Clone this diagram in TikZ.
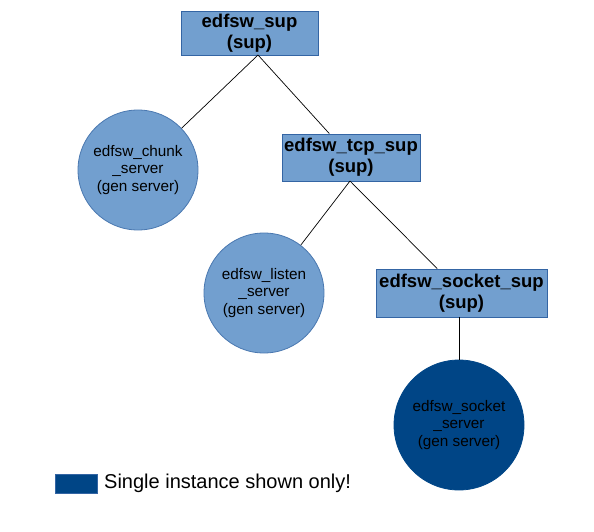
\documentclass[tikz,border=0pt]{standalone}
\usepackage{fontspec}
\setmainfont{Liberation Sans}
\begin{document}
\begin{tikzpicture}[x=1pt,y=-1pt,
  supbox/.style={draw=boxborder,fill=lightblue,line width=0.8pt,inner sep=0pt,align=center,
    font=\fontsize{18.5}{21}\selectfont\bfseries},
  srv/.style={circle,draw=circborder,fill=lightblue,line width=0.8pt,inner sep=0pt,align=center,
    font=\fontsize{15.3}{17.8}\selectfont},
  srvdark/.style={srv,fill=darkblue,draw=darkblue},
  link/.style={draw=black,line width=0.7pt}]
\definecolor{lightblue}{HTML}{729FCF}
\definecolor{boxborder}{HTML}{3465A4}
\definecolor{circborder}{HTML}{4A78B0}
\definecolor{darkblue}{HTML}{004586}
\useasboundingbox (0,0) rectangle (594,532);
\node[supbox,minimum width=137pt,minimum height=44pt] (sup) at (249.5,33) {edfsw\_sup\\(sup)};
\node[srv,minimum size=120pt] (chunk) at (138,170) {edfsw\_chunk\\\_server\\(gen server)};
\node[supbox,minimum width=138pt,minimum height=47pt] (tcp) at (351,157.5) {edfsw\_tcp\_sup\\(sup)};
\node[srv,minimum size=120pt] (listen) at (264,293) {edfsw\_listen\\\_server\\(gen server)};
\node[supbox,minimum width=171pt,minimum height=48pt] (sock) at (461.5,293) {edfsw\_socket\_sup\\(sup)};
\node[srvdark,minimum size=130pt] (socksrv) at (459,425) {edfsw\_socket\\\_server\\(gen server)};
\coordinate (supb) at (258,55);
\coordinate (tcpb) at (350,181);
\draw[link] (supb) -- (chunk);
\draw[link] (supb) -- (tcp);
\draw[link] (tcpb) -- (listen);
\draw[link] (tcpb) -- (sock);
\draw[link] (sock.south -| socksrv) -- (socksrv);
\node[draw=boxborder,fill=darkblue,minimum width=42pt,minimum height=19pt,inner sep=0pt] (leg) at (76,483.5) {};
\node[anchor=west,inner sep=0pt,font=\fontsize{20}{22}\selectfont] (legt) at (104,483.5) {Single instance shown only!};
\end{tikzpicture}
\end{document}
